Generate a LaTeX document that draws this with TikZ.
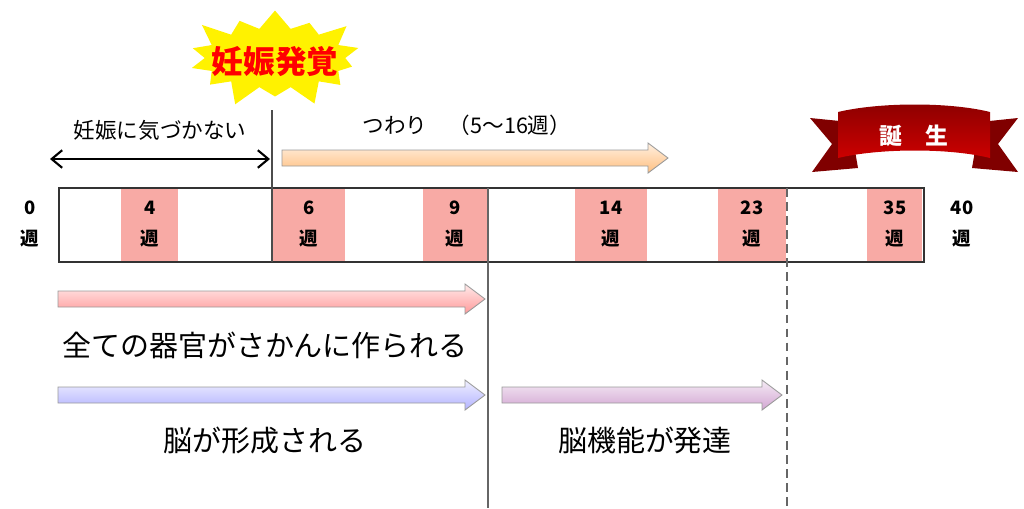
\documentclass[tikz,border=0pt]{standalone}
\usepackage{fontspec}
\setmainfont{Noto Sans CJK JP}
\usetikzlibrary{shapes.symbols,arrows.meta}
\definecolor{cellpink}{RGB}{248,170,165}
\tikzset{
 px/.style={x=0.02cm,y=-0.02cm},
 cell/.style={fill=cellpink,draw=none},
 wk/.style={font=\fontsize{10.5}{12}\selectfont\bfseries,align=center},
 big/.style={font=\fontsize{16.5}{18}\selectfont},
 mid/.style={font=\fontsize{12.3}{14}\selectfont},
 blkline/.style={draw=black!40,line width=0.5pt},
}
% #1 x start, #2 x end, #3 y centre, #4 top colour, #5 bottom colour
\newcommand\myblockarrow[5]{%
 \shadedraw[blkline,top color=#4,bottom color=#5]
 (#1,#3-8) -- (#2-20,#3-8) -- (#2-20,#3-15) -- (#2,#3) -- (#2-20,#3+15) -- (#2-20,#3+8) -- (#1,#3+8) -- cycle;}
\begin{document}
\begin{tikzpicture}[px]
\useasboundingbox (0,0) rectangle (1024,508);
% cells
\fill[cell] (121,188) rectangle (178,262);
\fill[cell] (272,188) rectangle (345,262);
\fill[cell] (423,188) rectangle (487,262);
\fill[cell] (575,188) rectangle (647,262);
\fill[cell] (718,188) rectangle (786,262);
\fill[cell] (867,188) rectangle (922,262);
\draw[line width=0.9pt,black!80] (59,188) rectangle (924,262);
\coordinate (l1a) at (272,110); \coordinate (l1b) at (272,262);
\draw[black!70,line width=0.8pt] (l1a) -- (l1b);
\coordinate (l2a) at (488,188); \coordinate (l2b) at (488,508);
\draw[black!60,line width=0.8pt] (l2a) -- (l2b);
\coordinate (l3a) at (787,188); \coordinate (l3b) at (787,508);
\draw[black!60,line width=0.8pt,dash pattern=on 5pt off 3pt] (l3a) -- (l3b);
% week labels
\node[wk] (w0) at (30,224) {0\\[6pt]週};
\node[wk] (w4) at (150,224) {4\\[6pt]週};
\node[wk] (w6) at (309,224) {6\\[6pt]週};
\node[wk] (w9) at (455,224) {9\\[6pt]週};
\node[wk] (w14) at (611,224) {14\\[6pt]週};
\node[wk] (w23) at (752,224) {23\\[6pt]週};
\node[wk] (w35) at (895,224) {35\\[6pt]週};
\node[wk] (w40) at (962,224) {40\\[6pt]週};
% star
\node[starburst,starburst points=14,starburst point height=14pt,fill=yellow,draw=none,minimum width=108pt,minimum height=62pt,inner sep=0pt] (star) at (275,58) {};
\node[text=red,font=\fontsize{18}{20}\selectfont\bfseries] (st) at (275,62) {妊娠発覚};
% double arrow
\coordinate (da) at (50,159); \coordinate (db) at (270,159);
\draw[{Straight Barb[length=6pt,width=10pt]}-{Straight Barb[length=6pt,width=10pt]},line width=1.2pt] (da) -- (db);
\node[mid] (t0) at (160,130) {妊娠に気づかない};
\node[mid] (t1) at (395,125) {つわり};
\node[mid] (t2) at (510,125) {（5〜16週）};
% orange arrow
\myblockarrow{282}{668}{158}{orange!12}{orange!50}
% ribbon
\fill[red!50!black] (850,122) -- (810,118) -- (832,144) -- (812,172) -- (858,168) -- cycle;
\fill[red!50!black] (980,122) -- (1018,118) -- (998,144) -- (1018,172) -- (972,168) -- cycle;
\shade[top color=red!55!black,bottom color=red!80!black] (838,112) .. controls (880,102) and (950,102) .. (990,112) -- (990,158) .. controls (950,148) and (880,148) .. (838,158) -- cycle;
\node[text=white,font=\fontsize{13}{14}\selectfont\bfseries] (birth) at (914,136) {誕\hspace{1em}生};
% lower arrows
\myblockarrow{58}{485}{299}{red!8}{red!40}
\node[big] (pt) at (265,345) {全ての器官がさかんに作られる};
\myblockarrow{58}{485}{395}{blue!6}{blue!30}
\node[big] (bt) at (265,440) {脳が形成される};
\myblockarrow{502}{782}{395}{violet!8}{violet!35}
\node[big] (vt) at (645,440) {脳機能が発達};
\end{tikzpicture}
\end{document}
